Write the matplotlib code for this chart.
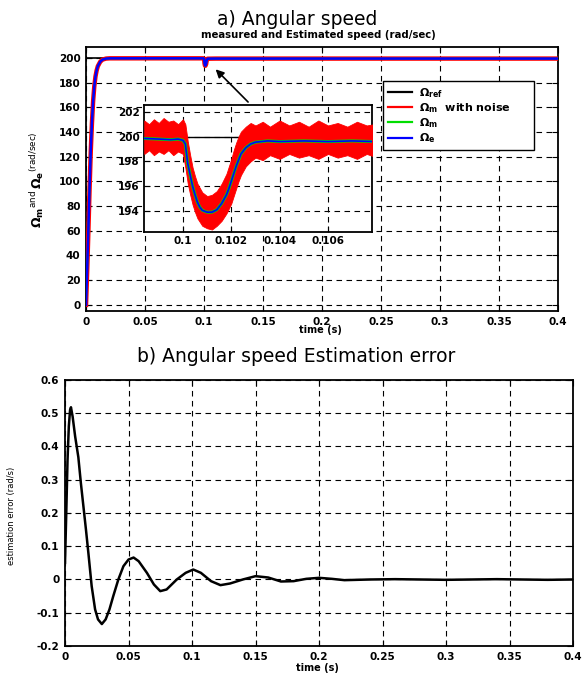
import matplotlib
matplotlib.use("Agg")
import matplotlib.pyplot as plt

# ---- data ----
# a) main speed traces
t_main = [0, 0.001, 0.002, 0.003, 0.004, 0.005, 0.006, 0.007, 0.008, 0.009,
          0.010, 0.012, 0.014, 0.017, 0.020, 0.04, 0.06, 0.08, 0.0995,
          0.1001, 0.1004, 0.1008, 0.1012, 0.1018, 0.1022, 0.1026, 0.103,
          0.11, 0.2, 0.3, 0.4]
w_e = [0, 30, 62, 95, 125, 148, 165, 177, 185, 190,
       193.5, 197, 198.8, 199.6, 199.8, 199.8, 199.8, 199.8, 199.8,
       199.4, 196.0, 194.05, 193.9, 195.3, 197.6, 199.1, 199.55,
       199.6, 199.6, 199.6, 199.6]
w_m = [0, 28, 60, 94, 124, 147, 165, 177, 185, 190,
       193.4, 197, 198.8, 199.6, 199.8, 199.8, 199.8, 199.8, 199.8,
       199.3, 195.8, 193.9, 193.8, 195.2, 197.5, 199.0, 199.5,
       199.6, 199.6, 199.6, 199.6]
t_ref = [0, 0.4]
w_ref = [200, 200]

# zoomed window around the load step
t_zoom = [0.0984, 0.0990, 0.0995, 0.0998, 0.1000, 0.1001, 0.10015, 0.1002,
          0.1003, 0.1004, 0.1005, 0.1006, 0.1007, 0.1008, 0.1010, 0.1012,
          0.1014, 0.1016, 0.1018, 0.1019, 0.1020, 0.1021, 0.1022, 0.1023,
          0.1024, 0.1026, 0.1028, 0.1030, 0.1035, 0.1040, 0.1050, 0.1060,
          0.1070, 0.1079]
w_e_zoom = [199.85, 199.8, 199.75, 199.8, 199.7, 199.4, 198.6, 197.8,
            196.9, 196.0, 195.3, 194.7, 194.3, 194.05, 193.9, 193.9,
            194.1, 194.6, 195.3, 195.8, 196.4, 197.0, 197.6, 198.1,
            198.6, 199.1, 199.4, 199.55, 199.65, 199.6, 199.65, 199.6,
            199.65, 199.6]
t_band = [0.0984, 0.0986, 0.0988, 0.0990, 0.0992, 0.0994, 0.0996, 0.0998,
          0.1000, 0.1001, 0.1002, 0.1003, 0.1004, 0.1005, 0.1006, 0.1008,
          0.1010, 0.1012, 0.1014, 0.1016, 0.1018, 0.1020, 0.1021, 0.1022,
          0.1023, 0.1024, 0.1026, 0.1028, 0.1030, 0.1033, 0.1036, 0.1040,
          0.1044, 0.1048, 0.1052, 0.1056, 0.1060, 0.1064, 0.1068, 0.1072,
          0.1076, 0.1079]
noise_hi = [201.3, 201.0, 201.4, 201.1, 201.5, 201.2, 201.3, 201.0,
            201.4, 201.0, 199.6, 198.5, 197.5, 196.8, 196.2, 195.5,
            195.2, 195.3, 195.6, 196.2, 197.0, 198.2, 198.9, 199.5,
            200.0, 200.4, 200.8, 201.1, 200.9, 201.2, 200.8, 201.3,
            200.9, 201.2, 200.8, 201.3, 200.9, 201.1, 200.8, 201.2,
            200.9, 201.0]
noise_lo = [198.6, 198.9, 198.5, 198.8, 198.6, 198.9, 198.5, 198.8,
            198.6, 197.5, 196.2, 195.3, 194.5, 193.9, 193.4, 192.8,
            192.6, 192.5, 192.8, 193.2, 193.8, 194.6, 195.2, 195.8,
            196.4, 196.9, 197.6, 198.0, 198.3, 198.1, 198.5, 198.2,
            198.6, 198.3, 198.5, 198.2, 198.6, 198.3, 198.5, 198.2,
            198.6, 198.4]

# b) estimation error
t_err = [0, 0.001, 0.002, 0.003, 0.004, 0.0047, 0.006, 0.008, 0.0105, 0.0125,
         0.0145, 0.0165, 0.0184, 0.021, 0.0237, 0.026, 0.029, 0.032, 0.035, 0.038,
         0.042, 0.046, 0.050, 0.054, 0.058, 0.0645, 0.070, 0.075, 0.080, 0.088,
         0.095, 0.101, 0.107, 0.115, 0.1224, 0.130, 0.140, 0.150, 0.160, 0.170,
         0.180, 0.190, 0.200, 0.210, 0.220, 0.240, 0.260, 0.280, 0.300, 0.320,
         0.340, 0.360, 0.380, 0.400]
err = [0.05, 0.2, 0.36, 0.46, 0.51, 0.518, 0.49, 0.43, 0.368, 0.29,
       0.22, 0.15, 0.08, -0.02, -0.09, -0.12, -0.134, -0.12, -0.09, -0.05,
       0.0, 0.04, 0.06, 0.066, 0.055, 0.02, -0.015, -0.035, -0.03, 0.0,
       0.02, 0.03, 0.02, -0.005, -0.017, -0.012, 0.0, 0.01, 0.006, -0.006,
       -0.005, 0.002, 0.005, 0.002, -0.002, 0.0, 0.001, 0.0, -0.001, 0.0,
       0.001, 0.0, -0.001, 0.0]

# ticks
time_ticks = [0, 0.05, 0.1, 0.15, 0.2, 0.25, 0.3, 0.35, 0.4]
time_labels = ['0', '0.05', '0.1', '0.15', '0.2', '0.25', '0.3', '0.35', '0.4']
speed_ticks = [0, 20, 40, 60, 80, 100, 120, 140, 160, 180, 200]
zoom_t_ticks = [0.1, 0.102, 0.104, 0.106]
zoom_t_labels = ['0.1', '0.102', '0.104', '0.106']
zoom_w_ticks = [194, 196, 198, 200, 202]
err_ticks = [-0.2, -0.1, 0, 0.1, 0.2, 0.3, 0.4, 0.5, 0.6]
err_labels = ['-0.2', '-0.1', '0', '0.1', '0.2', '0.3', '0.4', '0.5', '0.6']

GRID = dict(color='black', linestyle=(0, (5, 4)), linewidth=0.8)


def style_axes(ax, pad=4):
    ax.grid(True, **GRID)
    ax.set_axisbelow(False)
    ax.tick_params(direction='in', top=True, right=True, length=4, width=0.8,
                   pad=pad, labelsize=7.5)
    for lab in ax.get_xticklabels() + ax.get_yticklabels():
        lab.set_fontweight('bold')
        lab.set_family('DejaVu Sans')
    for s in ax.spines.values():
        s.set_linewidth(1.3)


fig = plt.figure(figsize=(5.84, 6.77), dpi=100)

# ---- a) angular speed ----
ax1 = fig.add_axes([0.1473, 0.5406, 0.8082, 0.39])
ax1.plot(t_ref, w_ref, color='black', lw=1.2, label=r'$\mathbf{\Omega_{ref}}$', zorder=3)
ax1.plot(t_main, w_m, color='red', lw=3.2, label=r'$\mathbf{\Omega_m}$  with noise', zorder=4)
ax1.plot(t_main, w_m, color='#00dd00', lw=1.2, label=r'$\mathbf{\Omega_m}$', zorder=5)
ax1.plot(t_main, w_e, color='blue', lw=1.8, label=r'$\mathbf{\Omega_e}$', zorder=6)
ax1.set_xlim(0, 0.4)
ax1.set_ylim(-5, 209)
ax1.set_xticks(time_ticks)
ax1.set_xticklabels(time_labels)
ax1.set_yticks(speed_ticks)
style_axes(ax1)
ax1.annotate('', xy=(0.1082, 192.5), xytext=(0.139, 162.8),
             arrowprops=dict(arrowstyle='-|>', color='black', lw=1.2,
                             mutation_scale=12), zorder=7)
leg = ax1.legend(loc='upper left',
                 bbox_to_anchor=(383 / 584, 1 - 147 / 677, 151 / 584, 66 / 677),
                 mode='expand', bbox_transform=fig.transFigure, fancybox=False,
                 framealpha=1, edgecolor='black',
                 prop=dict(family='DejaVu Sans', weight='bold', size=8),
                 handlelength=2.2, labelspacing=0.12, borderpad=0.45,
                 handletextpad=0.6, borderaxespad=0)
leg.get_frame().set_linewidth(1.0)
for h in leg.get_lines():
    h.set_linewidth(1.6)
leg.set_zorder(10)

# inset
axin = fig.add_axes([0.2466, 0.6573, 0.3904, 0.1876])
axin.fill_between(t_band, noise_lo, noise_hi, color='red', lw=0.6,
                  edgecolor='red', zorder=3)
axin.plot(t_ref, w_ref, color='black', lw=1.0, zorder=2)
axin.plot(t_zoom, w_e_zoom, color='#00dd00', lw=2.2, zorder=4)
axin.plot(t_zoom, w_e_zoom, color='blue', lw=1.2, zorder=5)
axin.set_xlim(0.09839, 0.10782)
axin.set_ylim(192.3, 202.55)
axin.set_xticks(zoom_t_ticks)
axin.set_xticklabels(zoom_t_labels)
axin.set_yticks(zoom_w_ticks)
style_axes(axin, pad=3)
axin.tick_params(top=False, right=False)

# ---- b) estimation error ----
ax2 = fig.add_axes([0.1113, 0.0458, 0.8699, 0.3929])
ax2.plot(t_err, err, color='black', lw=1.8)
ax2.set_xlim(0, 0.4)
ax2.set_ylim(-0.2, 0.6)
ax2.set_xticks(time_ticks)
ax2.set_xticklabels(time_labels)
ax2.set_yticks(err_ticks)
ax2.set_yticklabels(err_labels)
style_axes(ax2)

# ---- texts ----
fig.text(0.5086, 0.963, 'a) Angular speed', ha='center', va='baseline',
         family='DejaVu Sans', fontsize=13.5)
fig.text(0.546, 0.9439, 'measured and Estimated speed (rad/sec)', ha='center',
         va='baseline', family='DejaVu Sans', weight='bold', fontsize=7.3)
fig.text(0.548, 0.508, 'time (s)', ha='center', va='baseline',
         family='DejaVu Sans', weight='bold', fontsize=7)
fig.text(0.063, 0.734, r'$\mathbf{\Omega_m}^{\mathrm{and}}\,\mathbf{\Omega_e}^{\mathrm{(rad/sec)}}$',
         rotation=90, ha='center', va='center', fontsize=9)
fig.text(0.507, 0.4653, 'b) Angular speed Estimation error', ha='center',
         va='baseline', family='DejaVu Sans', fontsize=13.5)
fig.text(0.544, 0.0095, 'time (s)', ha='center', va='baseline',
         family='DejaVu Sans', weight='bold', fontsize=7)
fig.text(0.0205, 0.2378, 'estimation error (rad/s)', rotation=90, ha='center',
         va='center', family='Liberation Sans Narrow', fontsize=6)

fig.savefig('out.png', dpi=100)
